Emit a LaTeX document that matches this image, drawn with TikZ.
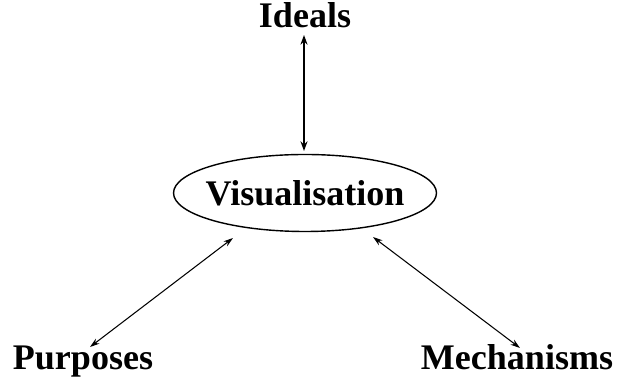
\documentclass[tikz,border=0pt]{standalone}
\usepackage{fontspec}
\setmainfont{Liberation Serif}
\usetikzlibrary{arrows.meta,calc}
\begin{document}
\begin{tikzpicture}[x=0.02cm, y=0.02cm]
    \tikzstyle{arrow} = [line width = 0.6pt, {Stealth[length=5.5pt,width=3.5pt]}-{Stealth[length=5.5pt,width=3.5pt]}]
    \tikzstyle{bigarrow} = [line width = 1.4pt, {Stealth[length=5.5pt,width=4pt]}-{Stealth[length=5.5pt,width=4pt]}]
    \tikzstyle{word} = [font = \fontsize{20.5}{24}\selectfont\bfseries, inner sep = 0pt]
    \useasboundingbox (0,0) rectangle (618,381);
    \node[word, anchor = base](ideals) at (305, 353){Ideals};
    \node[word](vis) at (305, 188){Visualisation};
    \draw[line width = 0.8pt](vis.center) ellipse [x radius = 131.5, y radius = 38.5];
    \node[word, anchor = base](purp) at (83, 11){Purposes};
    \node[word, anchor = base](mech) at (517, 11){Mechanisms};

    \draw[bigarrow]($(ideals.base)+(-1,-7)$)--($(vis.center)+(-1,42)$);
    \draw[arrow]($(vis.center)+(-72,-45)$)--($(purp.base)+(7,23)$);
    \draw[arrow]($(vis.center)+(68,-44)$)--($(mech.base)+(3,22)$);

    \end{tikzpicture}
\end{document}
